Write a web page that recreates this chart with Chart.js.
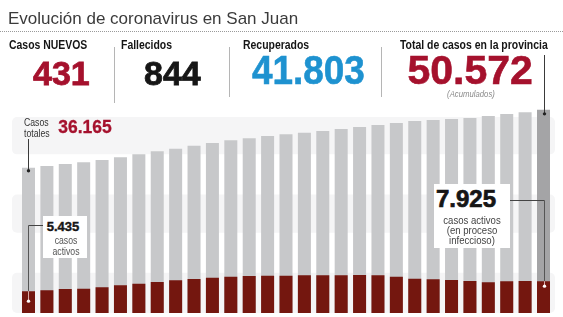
<!DOCTYPE html>
<html lang="es">
<head>
<meta charset="utf-8">
<title>Evolución de coronavirus en San Juan</title>
<script src="https://cdn.jsdelivr.net/npm/chart.js@4.4.1/dist/chart.umd.min.js"></script>
<style>
    body { margin: 0; background: #fff; font-family: 'Liberation Sans', Arial, sans-serif; }
    #wrap { position: relative; width: 563px; height: 317px; overflow: hidden; }
    #chart { position: absolute; left: 0; top: 0; }
    .abs { position: absolute; white-space: nowrap; }
    .titulo { left: 8px; top: 9.6px; font-size: 17px; line-height: 17px; color: #3b3b3b; }
    .puntos { left: 0; top: 31px; width: 563px; border-top: 1px dotted #9a9a9a; }
    .sep { width: 1px; background: #b5b5b5; }
    .lbl { font-weight: bold; font-size: 12px; line-height: 12px; color: #151515; top: 39.1px;
           transform: scaleX(.87); transform-origin: 0 0; }
    .num { font-weight: bold; line-height: 1; }
    .chico { font-size: 34px; top: 56.2px; -webkit-text-stroke: .8px currentColor; }
    .grande { font-size: 41px; top: 50.3px; -webkit-text-stroke: .6px currentColor; }
    .nota { font-size: 9px; line-height: 9px; font-style: italic; color: #8a8a8a; top: 89.9px;
            width: 80px; text-align: center; transform: scaleX(.86); }
    .caja { background: #fff; }
    .cond { transform: scaleX(.87); text-align: center; }
</style>
</head>
<body>
<div id="wrap">
    <canvas id="chart" width="563" height="317"></canvas>

    <div class="abs titulo">Evolución de coronavirus en San Juan</div>
    <div class="abs puntos"></div>
    <div class="abs sep" style="left:114px;top:47px;height:56px"></div>
    <div class="abs sep" style="left:229px;top:47px;height:50px"></div>
    <div class="abs sep" style="left:381px;top:47px;height:50px"></div>

    <div class="abs lbl" id="lbl0" style="left:9px"></div>
    <div class="abs lbl" id="lbl1" style="left:120.7px"></div>
    <div class="abs lbl" id="lbl2" style="left:242.7px"></div>
    <div class="abs lbl" id="lbl3" style="left:400px"></div>

    <div class="abs num chico" id="num0" style="left:33px"></div>
    <div class="abs num chico" id="num1" style="left:144px"></div>
    <div class="abs num grande" id="num2" style="left:251.5px;transform:scaleX(.9);transform-origin:0 0"></div>
    <div class="abs num grande" id="num3" style="left:407.5px"></div>
    <div class="abs nota" style="left:430.5px">(Acumulados)</div>

    <!-- anotaciones sobre las barras -->
    <div class="abs" style="left:24.3px;top:117px;font-size:10px;line-height:11px;color:#333;transform:scaleX(.87);transform-origin:0 0">Casos<br>totales</div>
    <div class="abs num" id="totalIni" style="left:58.3px;top:118.5px;font-size:17.5px;color:#a5112d;-webkit-text-stroke:.3px #a5112d"></div>

    <div class="abs caja" style="left:43px;top:216px;width:44px;height:42px"></div>
    <div class="abs num" id="activoIni" style="left:46.7px;top:219.7px;font-size:13px;color:#161616;-webkit-text-stroke:.4px #161616"></div>
    <div class="abs cond" style="left:36px;top:235px;width:60px;font-size:10px;line-height:11px;color:#555">casos<br>activos</div>

    <div class="abs caja" style="left:434px;top:184px;width:76px;height:64px"></div>
    <div class="abs num" id="activoFin" style="left:436px;top:187px;font-size:24px;color:#161616;-webkit-text-stroke:.7px #161616"></div>
    <div class="abs cond" style="left:421.7px;top:214.5px;width:100px;font-size:11px;line-height:10px;color:#444">casos activos<br>(en proceso<br>infeccioso)</div>
</div>

<script>
// Datos: casos totales acumulados y casos activos, uno por día
const dias = ['1', '2', '3', '4', '5', '6', '7', '8', '9', '10', '11', '12', '13', '14', '15',
              '16', '17', '18', '19', '20', '21', '22', '23', '24', '25', '26', '27', '28', '29'];
const casosTotales = [36165, 36600, 37100, 37520, 38100, 38770, 39520, 40260, 40910, 41660,
                      42330, 43000, 43500, 44070, 44500, 44890, 45320, 45820, 46310, 46810,
                      47310, 47810, 48060, 48310, 48560, 49050, 49550, 49970, 50572];
const casosActivos = [5435, 5650, 5980, 6050, 6400, 6900, 7300, 7720, 8140, 8470,
                      8790, 9040, 9210, 9290, 9260, 9390, 9390, 9390, 9460, 9390,
                      9040, 8540, 8390, 8220, 7970, 7640, 7890, 7970, 7925];

// Cabecera
const statLabels = ['Casos NUEVOS', 'Fallecidos', 'Recuperados', 'Total de casos en la provincia'];
const statValues = ['431', '844', '41.803', '50.572'];
const statColors = ['#a5112d', '#161616', '#1e92d0', '#a5112d'];

// Franjas claras del fondo (en unidades de casos)
const franjas = [[0, 10000], [20000, 29500], [39500, 48800]];

const fmt = v => v.toLocaleString('es-AR');

statLabels.forEach((t, i) => {
    document.getElementById('lbl' + i).textContent = t;
    const n = document.getElementById('num' + i);
    n.textContent = statValues[i];
    n.style.color = statColors[i];
});
document.getElementById('totalIni').textContent = fmt(casosTotales[0]);
document.getElementById('activoIni').textContent = fmt(casosActivos[0]);
document.getElementById('activoFin').textContent = fmt(casosActivos[casosActivos.length - 1]);

const ultimo = casosTotales.length - 1;

const franjasPlugin = {
    id: 'franjas',
    beforeDatasetsDraw(chart) {
        const ctx = chart.ctx;
        const y = chart.scales.y;
        ctx.save();
        ctx.fillStyle = '#f5f5f6';
        franjas.forEach(([a, b]) => {
            const top = y.getPixelForValue(b);
            const bot = y.getPixelForValue(a);
            ctx.beginPath();
            if (ctx.roundRect) ctx.roundRect(12, top, 543, bot - top, 5);
            else ctx.rect(12, top, 543, bot - top);
            ctx.fill();
        });
        ctx.restore();
    }
};

function linea(ctx, x1, y1, x2, y2, color) {
    ctx.strokeStyle = color;
    ctx.beginPath();
    ctx.moveTo(x1, y1);
    ctx.lineTo(x2, y2);
    ctx.stroke();
}
function punto(ctx, x, y, color) {
    ctx.fillStyle = color;
    ctx.beginPath();
    ctx.arc(x, y, 1.7, 0, Math.PI * 2);
    ctx.fill();
}

// Líneas guía de las anotaciones
const guiasPlugin = {
    id: 'guias',
    afterDatasetsDraw(chart) {
        const ctx = chart.ctx;
        const act = chart.getDatasetMeta(0).data;
        const tot = chart.getDatasetMeta(1).data;
        const x0 = Math.round(tot[0].x) + 0.5;
        const xN = Math.round(tot[ultimo].x) + 0.5;
        ctx.save();
        ctx.lineWidth = 1;

        // Casos totales (primer día)
        linea(ctx, x0, 139, x0, tot[0].y + 3, '#3a3a3a');
        punto(ctx, x0, tot[0].y + 3, '#222');

        // Casos activos (primer día)
        linea(ctx, 43, 225.5, x0, 225.5, '#444');
        linea(ctx, x0, 225.5, x0, act[0].y, '#555');
        linea(ctx, x0, act[0].y, x0, act[0].y + 10, '#d9a9a6');
        punto(ctx, x0, act[0].y + 10, '#fff');

        // Casos activos (último día)
        linea(ctx, 510, 200.5, xN, 200.5, '#444');
        linea(ctx, xN, 200.5, xN, act[ultimo].y, '#555');
        linea(ctx, xN, act[ultimo].y, xN, act[ultimo].y + 5, '#d9a9a6');
        punto(ctx, xN, act[ultimo].y + 5, '#fff');

        // Total de casos (último día) hasta la cabecera
        linea(ctx, xN, 55, xN, tot[ultimo].y + 4, '#3a3a3a');
        punto(ctx, xN, tot[ultimo].y + 4, '#222');
        ctx.restore();
    }
};

new Chart(document.getElementById('chart').getContext('2d'), {
    type: 'bar',
    data: {
        labels: dias,
        datasets: [
            {
                label: 'Casos activos',
                data: casosActivos,
                backgroundColor: '#74170f',
                grouped: false,
                barPercentage: 0.707,
                categoryPercentage: 1
            },
            {
                label: 'Casos totales',
                data: casosTotales,
                backgroundColor: casosTotales.map((v, i) => i === ultimo ? '#a4a4a6' : '#c7c8ca'),
                grouped: false,
                barPercentage: 0.707,
                categoryPercentage: 1
            }
        ]
    },
    options: {
        responsive: false,
        animation: false,
        devicePixelRatio: 1,
        layout: { padding: { left: 19.3, right: 10.3, top: 72, bottom: 4 } },
        plugins: { legend: { display: false }, tooltip: { enabled: false } },
        scales: {
            x: { display: false },
            y: { display: false, min: 0, max: 60000 }
        }
    },
    plugins: [franjasPlugin, guiasPlugin]
});
</script>
</body>
</html>
